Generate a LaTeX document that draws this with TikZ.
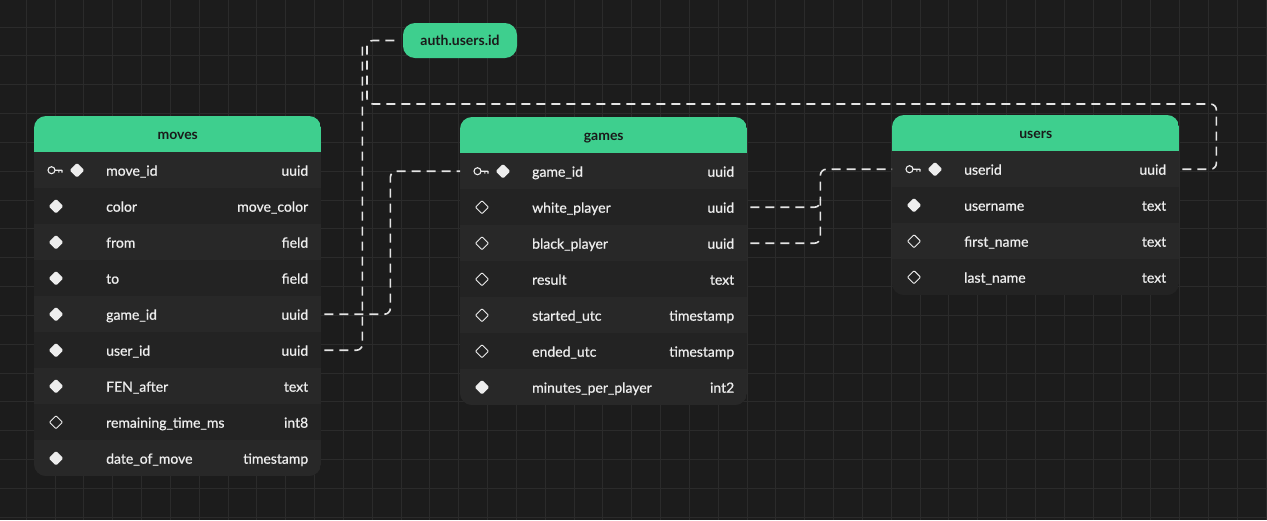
\documentclass[tikz,border=0pt]{standalone}
\usepackage{fontspec}
\setmainfont{Lato}
\newfontfamily\fieldfont{Lato}[FakeBold=0.7]
\usetikzlibrary{positioning,shapes.geometric}

\definecolor{canvas}{HTML}{1C1C1C}
\definecolor{gridline}{HTML}{2B2B2B}
\definecolor{brand}{HTML}{3ECF8E}
\definecolor{rowa}{HTML}{282828}
\definecolor{rowb}{HTML}{232323}
\definecolor{headink}{HTML}{1A1A1A}
\definecolor{fieldink}{HTML}{EDEDED}
\definecolor{wire}{HTML}{E4E4E4}

\tikzset{
  tblhead/.style={fill=brand, text=headink, font=\fontsize{14}{16}\selectfont\bfseries,
    minimum width=287pt, minimum height=36pt, inner sep=0pt, text height=13pt, text depth=2pt},
  tblrow/.style={minimum width=287pt, minimum height=36pt, inner sep=0pt},
  fieldname/.style={text=fieldink, font=\fieldfont\fontsize{14}{16}\selectfont, inner sep=0pt,
    text height=13pt, text depth=2pt},
  fulldot/.style={diamond, fill=fieldink, minimum width=15pt, minimum height=15pt,
    inner sep=0pt, rounded corners=1.5pt},
  opendot/.style={diamond, draw=fieldink, line width=0.9pt, minimum width=13.5pt,
    minimum height=13.5pt, inner sep=0pt, rounded corners=1pt},
  keyicon/.style={draw=fieldink, line width=1.1pt},
  authbox/.style={fill=brand, text=headink, font=\fontsize{14}{16}\selectfont\bfseries,
    minimum width=114pt, minimum height=35pt, inner sep=0pt, rounded corners=12pt},
  link/.style={draw=wire, line width=1.6pt, dash pattern=on 9pt off 6pt, rounded corners=6pt}
}

% id, x, y, title, rows, fields
\newcommand{\erdtable}[6]{%
  \begin{scope}
    \clip[rounded corners=12pt] (#2,#3) rectangle ++(287,{36*(#5+1)});
    \fill[rowb] (#2,#3) rectangle ++(287,{36*(#5+1)});
    \node[tblhead, anchor=north west] (#1) at (#2,#3) {#4};
    \foreach \lbl/\typ/\mk [count=\i] in {#6} {
      \ifodd\i \def\rowcol{rowa}\else \def\rowcol{rowb}\fi
      \node[tblrow, fill=\rowcol, anchor=north west] (#1\i) at (#2,{#3+36*\i}) {};
      \ifnum\mk=2\relax
        \draw[keyicon] ([xshift=17.5pt]#1\i.west) circle[radius=3.5]
          ++(3.5,0) -- ++(7,0) ++(-3.2,0) -- ++(0,2.5) ++(3.2,-2.5) -- ++(0,2.5);
        \node[fulldot] (#1\i-ic) at ([xshift=43pt]#1\i.west) {};
      \else\ifnum\mk=1\relax
        \node[fulldot] (#1\i-ic) at ([xshift=22pt]#1\i.west) {};
      \else
        \node[opendot] (#1\i-ic) at ([xshift=22pt]#1\i.west) {};
      \fi\fi
      \node[fieldname, anchor=west] (#1\i-nm) at ([xshift=72pt]#1\i.west) {\lbl};
      \node[fieldname, anchor=east] (#1\i-ty) at ([xshift=-13pt]#1\i.east) {\typ};
    }
  \end{scope}}

\begin{document}
\begin{tikzpicture}[x=1pt, y=-1pt]
\fill[canvas] (0,0) rectangle (1267,520);
\useasboundingbox (0,0) rectangle (1267,520);
\foreach \k in {0,...,43} \draw[gridline] ({26+28.83*\k},0) -- ++(0,520);
\foreach \k in {0,...,18} \draw[gridline] (0,{-2+28.83*\k}) -- ++(1267,0);

% tables
\erdtable{mv}{34}{116}{moves}{9}{move\_id/uuid/2, color/move\_color/1, from/field/1,
  to/field/1, game\_id/uuid/1, user\_id/uuid/1, FEN\_after/text/1,
  remaining\_time\_ms/int8/0, date\_of\_move/timestamp/1}
\erdtable{gm}{460}{117}{games}{7}{game\_id/uuid/2, white\_player/uuid/0,
  black\_player/uuid/0, result/text/0, started\_utc/timestamp/0,
  ended\_utc/timestamp/0, minutes\_per\_player/int2/1}
\erdtable{us}{892}{115}{users}{4}{userid/uuid/2, username/text/1,
  first\_name/text/0, last\_name/text/0}

\node[authbox] (auth) at (460,40.5) {auth.users.id};
\coordinate (bus) at (367,104);

% relations
\draw[link, shorten <=3pt] (mv5.east) -- ++(69,0) |- (gm1.west);
\draw[link, shorten <=3pt] (mv6.east) -- ++(41,0) -- ++(0,-305);
\draw[link, shorten <=3pt, shorten >=7pt] (us1.east) -- ++(37,0) |- (bus) |- (auth.west);
\draw[link, shorten <=3pt] (gm2.east) -- ++(73,0) -- ++(0,-8);
\draw[link, shorten <=3pt] (gm3.east) -- ++(73,0) |- (us1.west);
\end{tikzpicture}
\end{document}
